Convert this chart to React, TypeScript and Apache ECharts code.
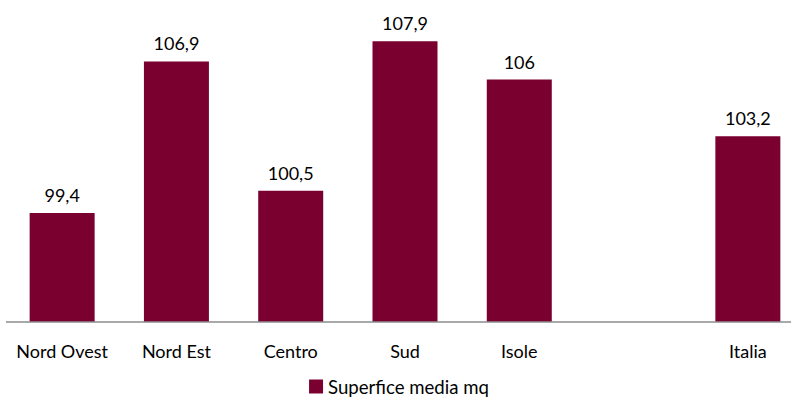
import React, { useEffect, useRef } from "react";
import * as echarts from "echarts";

const categories = ["Nord Ovest", "Nord Est", "Centro", "Sud", "Isole", "", "Italia"];
const values: (number | null)[] = [99.4, 106.9, 100.5, 107.9, 106, null, 103.2];
const seriesName = "Superfice media mq";

const FONT = "Lato";
const COLOR = "#7a0030";

export default function App() {
  const ref = useRef<HTMLDivElement>(null);
  useEffect(() => {
    if (!ref.current) return;
    const chart = echarts.init(ref.current, null, { renderer: "svg" });
    chart.setOption({
      animation: false,
      textStyle: { fontFamily: FONT },
      legend: {
        bottom: 3,
        left: "center",
        itemWidth: 14,
        itemHeight: 14,
        itemGap: 5,
        icon: "rect",
        textStyle: { fontSize: 18.6, color: "#000", fontFamily: FONT },
        data: [seriesName],
      },
      grid: {
        left: 5,
        width: 800,
        top: 19,
        height: 303,
        containLabel: false,
        outerBoundsMode: "none",
      },
      xAxis: {
        type: "category",
        data: categories,
        axisLine: { show: false },
        axisTick: { show: false },
        axisLabel: { color: "#000", fontSize: 18, margin: 20, fontFamily: FONT, interval: 0 },
      },
      yAxis: {
        type: "value",
        min: 94,
        max: 109,
        show: false,
        splitLine: { show: false },
      },
      graphic: [
        {
          type: "line",
          shape: { x1: 6, y1: 322, x2: 791, y2: 322 },
          style: { stroke: "#8c8c8c", lineWidth: 1.5 },
          z: 10,
        },
      ],
      series: [
        {
          name: seriesName,
          type: "bar",
          data: values,
          barWidth: 65,
          itemStyle: { color: COLOR },
          label: {
            show: true,
            position: "top",
            distance: 9,
            color: "#000",
            fontSize: 18,
            fontFamily: FONT,
            formatter: (p: any) => String(p.value).replace(".", ","),
          },
        },
      ],
    });
    return () => chart.dispose();
  }, []);
  return (
    <div
      ref={ref}
      style={{ position: "absolute", left: 0, top: 0, width: 798, height: 404, overflow: "hidden" }}
    />
  );
}
